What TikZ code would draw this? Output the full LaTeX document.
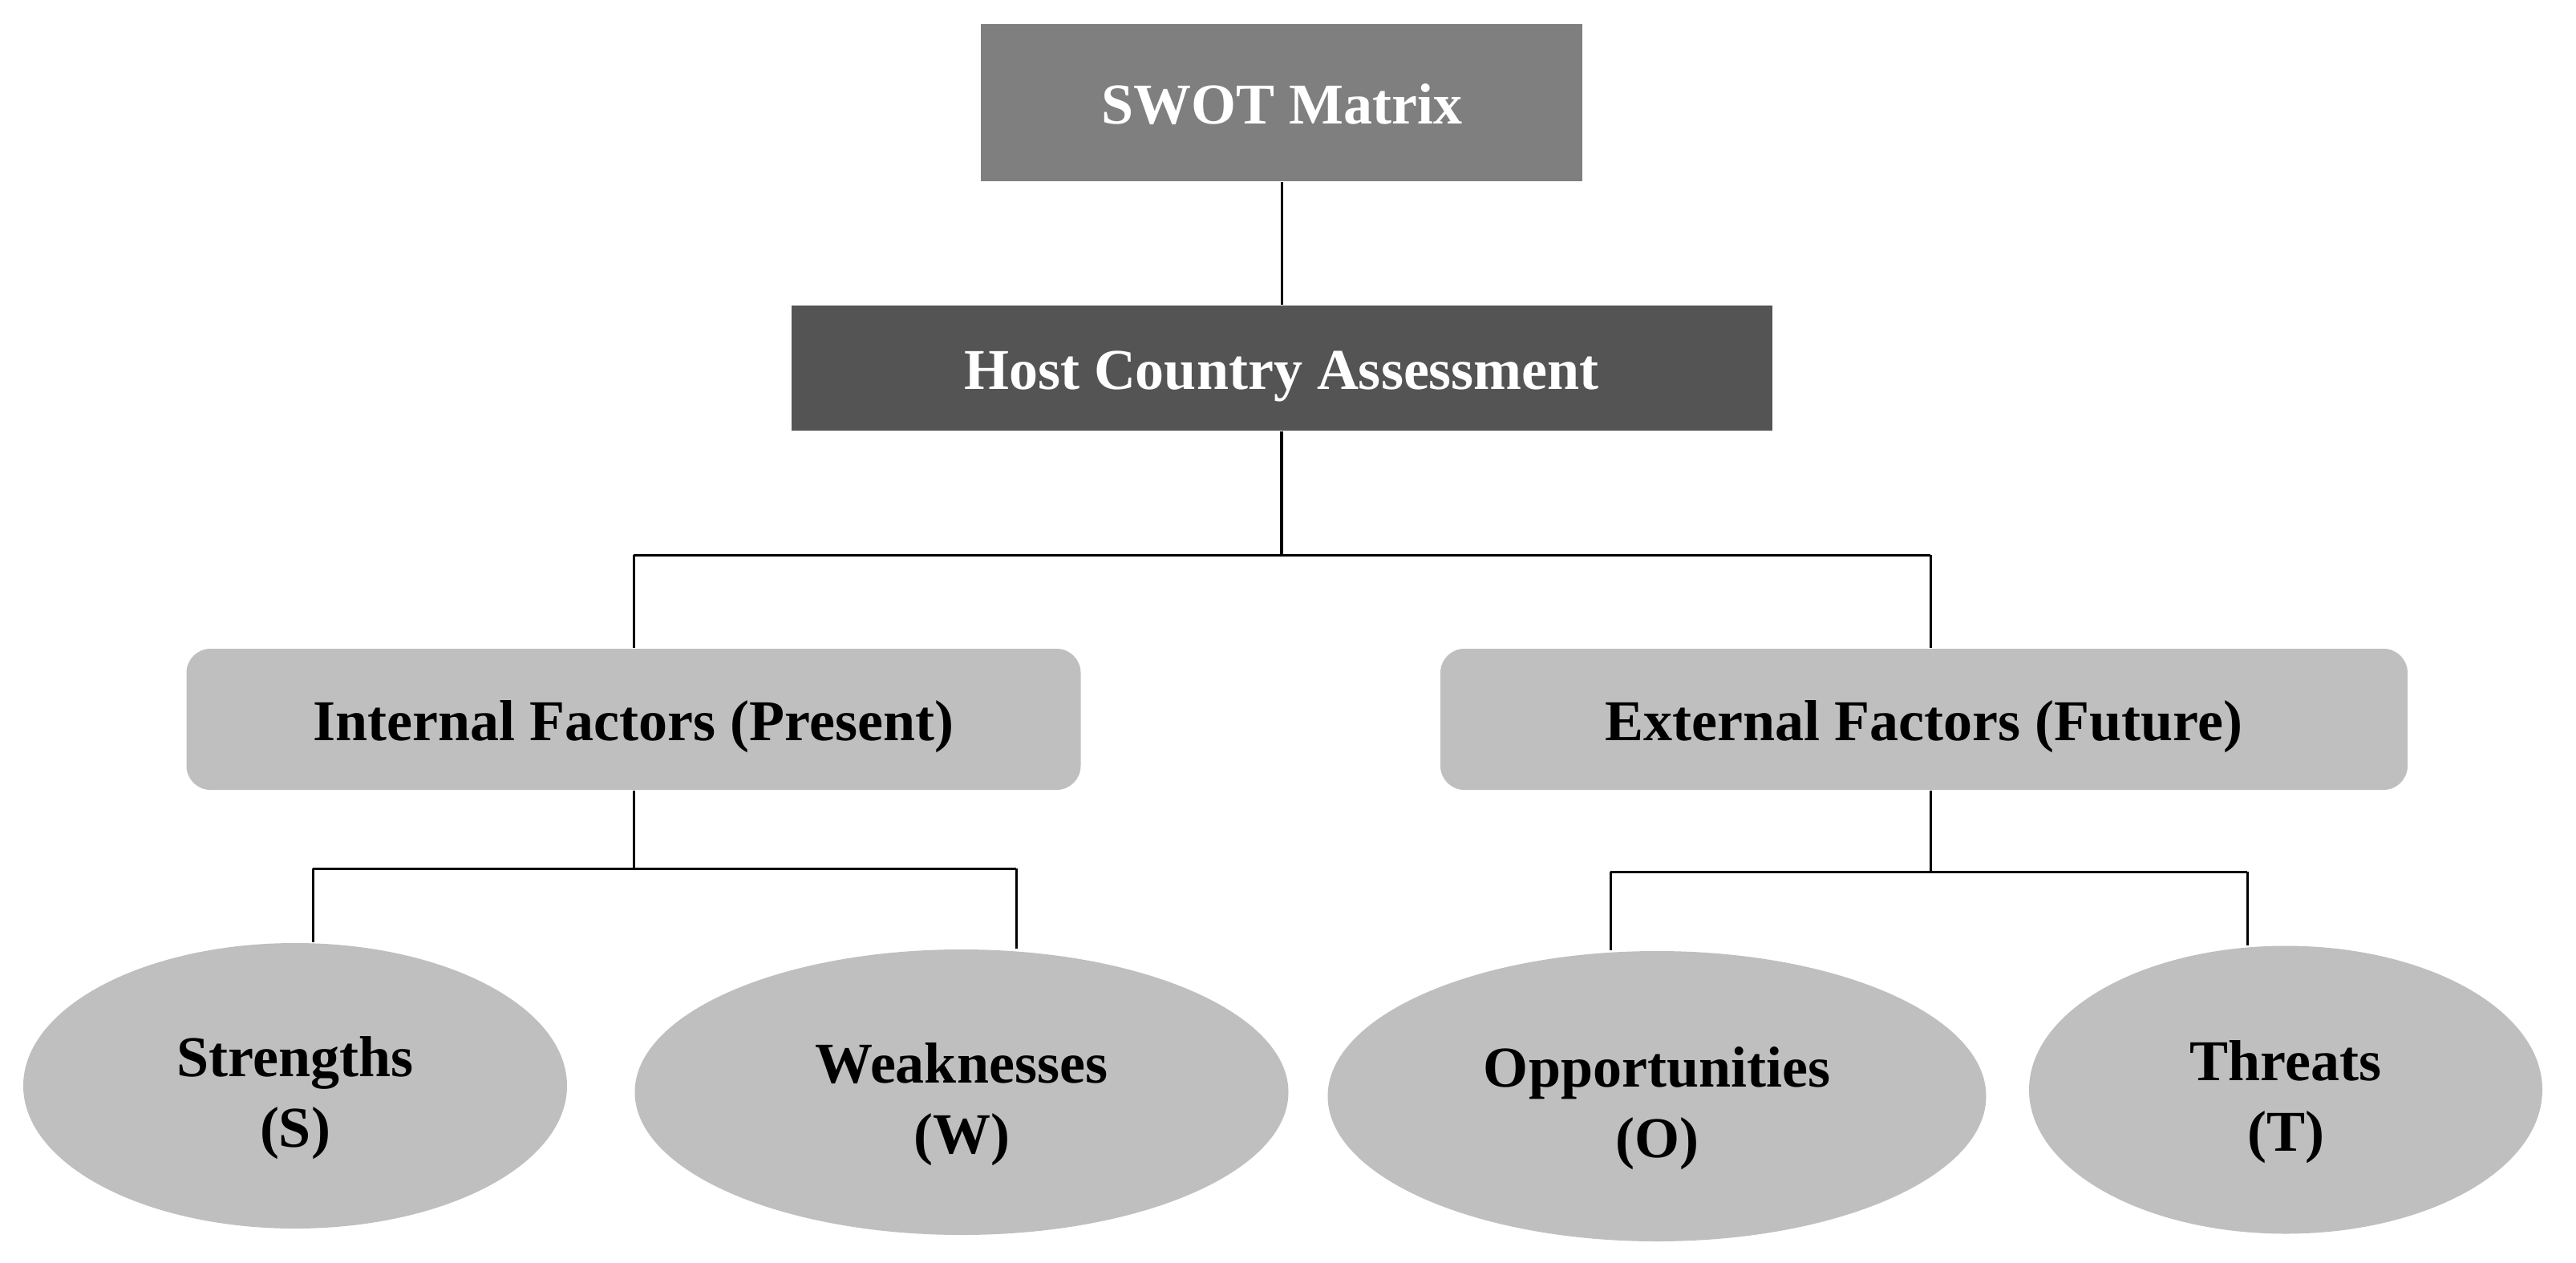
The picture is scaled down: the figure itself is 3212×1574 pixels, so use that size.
\documentclass[tikz,border=0pt]{standalone}
\usepackage{fontspec}
\setmainfont{Liberation Serif}
\usetikzlibrary{shapes.geometric}
\definecolor{boxmid}{RGB}{127,127,127}
\definecolor{boxdark}{RGB}{84,84,84}
\definecolor{boxlight}{RGB}{191,191,191}
\tikzset{
  lbl/.style={font=\fontsize{18}{22}\selectfont\bfseries, align=center, inner sep=0pt},
  oneline/.style={lbl, text height=13pt, text depth=0pt},
  topbox/.style={oneline, fill=boxmid, text=white, minimum width=187.5pt, minimum height=49pt},
  hostbox/.style={oneline, fill=boxdark, text=white, minimum width=305.75pt, minimum height=39pt},
  factorbox/.style={oneline, fill=boxlight, text=black, rounded corners=7.5pt, minimum height=44pt},
  swotell/.style={lbl, ellipse, fill=boxlight, text=black, text height=41.6pt, text depth=3.6pt},
  link/.style={draw=black, line width=0.75pt},
  trunk/.style={draw=black, line width=1pt}
}
\begin{document}
\begin{tikzpicture}[x=0.25pt,y=-0.25pt]
\path[use as bounding box] (0,0) rectangle (3212,1574);

\node[topbox] (swot) at (1598,128) {SWOT Matrix};
\node[hostbox] (host) at (1598,459) {Host Country Assessment};
\node[factorbox, minimum width=278.75pt] (int) at (790,897) {Internal Factors (Present)};
\node[factorbox, minimum width=301.5pt] (ext) at (2399,897) {External Factors (Future)};

\node[swotell, minimum width=169.5pt, minimum height=89pt] (st) at (368,1354) {Strengths\\(S)};
\node[swotell, minimum width=203.75pt, minimum height=89pt] (wk) at (1199,1362) {Weaknesses\\(W)};
\node[swotell, minimum width=205.25pt, minimum height=90.5pt] (op) at (2066,1367) {Opportunities\\(O)};
\node[swotell, minimum width=160pt, minimum height=89.75pt] (th) at (2850,1359) {Threats\\(T)};

% top level
\draw[link] (swot.south) -- (host.north);
\coordinate (hb) at (1598,692);
\draw[trunk] (host.south) -- (host.south |- hb);
\coordinate (tl) at (790,692);
\coordinate (tr) at (2407,692);
\draw[link] (tl) -- (tr);
\draw[link] (tl) -- (tl |- int.north);
\draw[link] (tr) -- (tr |- ext.north);

% internal branch
\coordinate (il) at (390,1083);
\coordinate (ir) at (1267,1083);
\draw[link] (int.south) -- (int.south |- il);
\draw[link] (il) -- (ir);
\draw[link] (il) -- (il |- st.north);
\draw[link] (ir) -- (ir |- wk.north);

% external branch
\coordinate (el) at (2008,1087);
\coordinate (er) at (2802,1087);
\draw[link] (tr |- ext.south) -- (tr |- el);
\draw[link] (el) -- (er);
\draw[link] (el) -- (el |- op.north);
\draw[link] (er) -- (er |- th.north);
\end{tikzpicture}
\end{document}
